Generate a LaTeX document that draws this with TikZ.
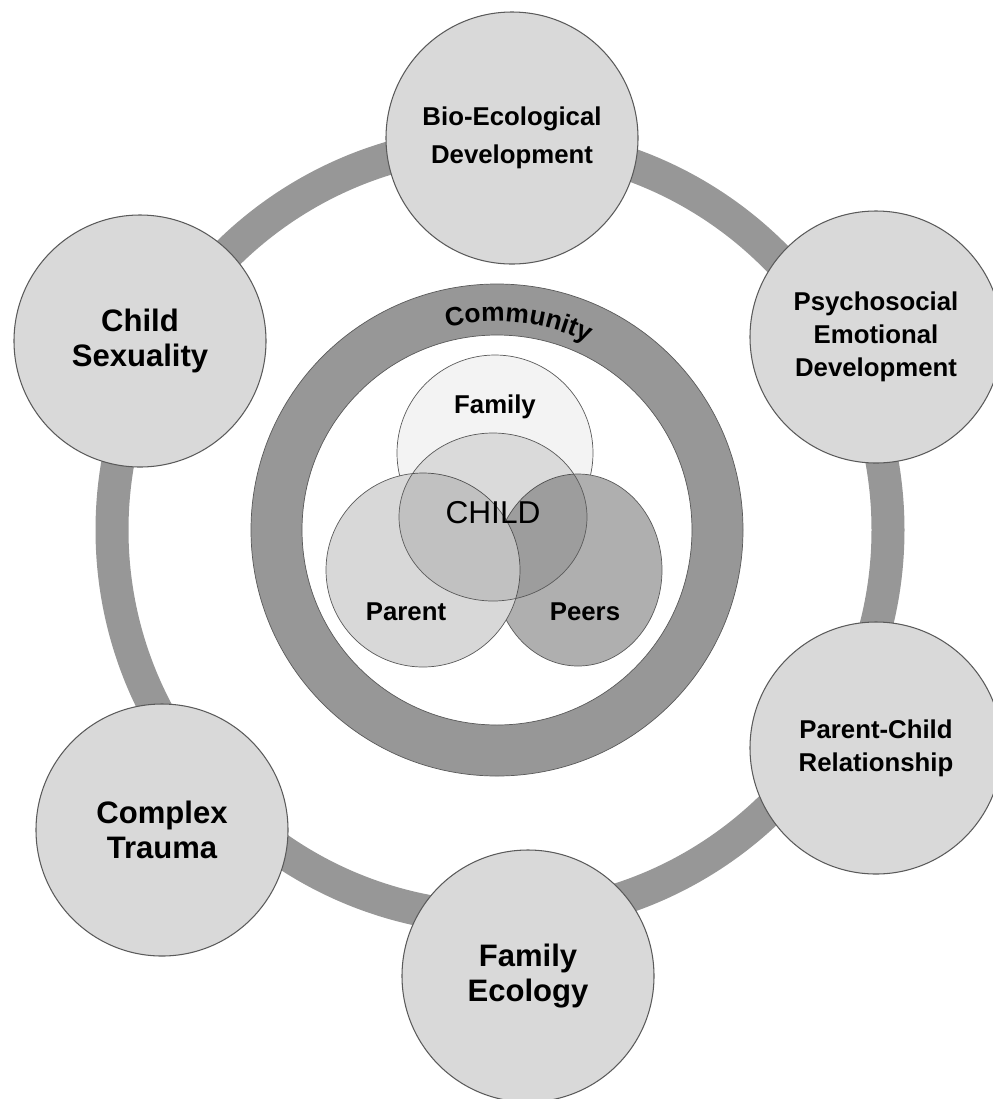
\documentclass[tikz,border=0pt]{standalone}
\usepackage{fontspec}
\setmainfont{Liberation Sans}
\usetikzlibrary{calc}
\usetikzlibrary{decorations.text}

\definecolor{bandgray}{HTML}{979797}
\definecolor{topicgray}{HTML}{D9D9D9}
\definecolor{edgegray}{HTML}{5A5A5A}
\definecolor{familyfill}{HTML}{F3F3F3}
\definecolor{parentfill}{HTML}{D8D8D8}
\definecolor{peersfill}{HTML}{AFAFAF}

\tikzset{
  topic/.style={circle, draw=edgegray, line width=0.9pt, fill=topicgray,
    minimum size=75.6mm, inner sep=0pt, align=center,
    font=\bfseries\fontsize{22}{28}\selectfont},
  bigtopic/.style={topic, font=\bfseries\fontsize{26.5}{30}\selectfont},
  vennlabel/.style={font=\bfseries\fontsize{22}{26}\selectfont},
  venn/.style={draw=edgegray, line width=0.6pt}
}

\begin{document}
\begin{tikzpicture}[x=0.3mm, y=-0.3mm]
                \useasboundingbox (0,0) rectangle (993,1099);
                \coordinate (hub) at (497,530);
                % outer band
                \draw[bandgray, line width=9.9mm] (500,530) circle[radius=388];
                % community ring
                \fill[bandgray, draw=edgegray, line width=0.6pt, even odd rule]
                    (hub) circle[radius=246] (hub) circle[radius=195];
                \path[decorate, decoration={text along path, text align=center,
                    text={|\bfseries\fontsize{22.5}{26}\selectfont|Community}}]
                    ($(hub)+(130:62.5mm)$) arc[start angle=130, end angle=38, radius=62.5mm];
                % venn
                \filldraw[venn, fill=familyfill] (495,453) circle[radius=98];
                \filldraw[venn, fill=peersfill] (578,570) ellipse[x radius=84, y radius=96];
                \filldraw[venn, fill=parentfill] (423,570) circle[radius=97];
                \filldraw[venn, fill=black, fill opacity=0.1] (493,517) ellipse[x radius=94, y radius=84];
                \node[vennlabel] (family) at (495,407) {Family};
                \node[font=\fontsize{27}{30}\selectfont] (child) at (493,513) {CHILD};
                \node[vennlabel] (parent) at (406,612) {Parent};
                \node[vennlabel] (peers) at (585,612) {Peers};
                % outer topics
                \node[topic] (bio) at (512,138) {Bio-Ecological\\[4pt]Development};
                \node[topic] (psy) at (876,337) {Psychosocial\\Emotional\\Development};
                \node[topic] (pc) at (876,748) {Parent-Child\\Relationship};
                \node[bigtopic] (fe) at (528,976) {Family\\Ecology};
                \node[bigtopic] (ct) at (162,830) {Complex\\Trauma};
                \node[bigtopic] (cs) at (140,341) {Child\\Sexuality};
            \end{tikzpicture}
\end{document}
